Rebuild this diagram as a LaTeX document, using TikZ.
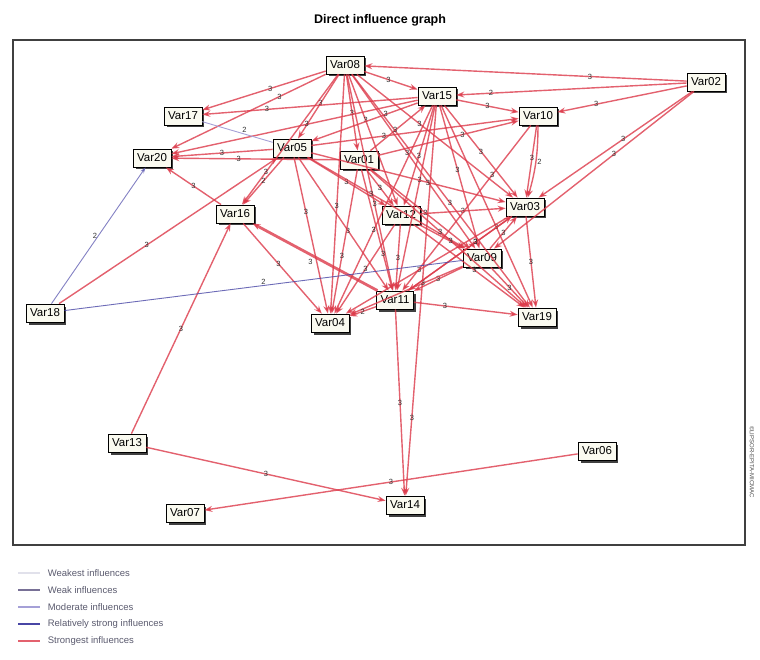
\documentclass[tikz,border=0pt]{standalone}
\usepackage{fontspec}
\setmainfont{Liberation Sans}
\setsansfont{Liberation Sans}
\usetikzlibrary{arrows.meta,shadows}
\definecolor{infred}{RGB}{220,58,74}
\definecolor{weakc}{RGB}{120,112,150}
\definecolor{modc}{RGB}{165,160,215}
\definecolor{strongc}{RGB}{72,70,165}
\definecolor{weakestc}{RGB}{225,225,235}
\definecolor{boxfill}{RGB}{250,250,240}
\definecolor{legtext}{RGB}{90,90,110}
\tikzset{
  var/.style={draw=black, line width=0.8pt, fill=boxfill, font=\sffamily\fontsize{11.5}{12}\selectfont,
    inner xsep=4pt, inner ysep=3pt, minimum height=18pt,
    drop shadow={shadow xshift=2.5pt, shadow yshift=-2.5pt, fill=black!75, opacity=1}},
  infl/.style={draw=infred, line width=1.4pt, opacity=0.8, -{Stealth[length=8pt,width=6pt]}},
  lbl/.style={font=\sffamily\fontsize{7.5}{8}\selectfont, text=black!80, inner sep=1pt, opacity=1},
  legline/.style={line width=1.6pt},
  legtxt/.style={anchor=west, font=\sffamily\fontsize{9.5}{10}\selectfont, text=legtext, inner sep=0pt}
}
\begin{document}
\begin{tikzpicture}[x=1pt,y=-1pt]
\useasboundingbox (0,0) rectangle (760,660);
\node[font=\sffamily\bfseries\fontsize{12.5}{13}\selectfont] (title) at (380,20) {Direct influence graph};
\draw[black!75, line width=1.5pt] (13,40) rectangle (745,545);
% nodes
\node[var] (v08) at (345,65) {Var08};
\node[var] (v15) at (437,96) {Var15};
\node[var] (v02) at (706,82) {Var02};
\node[var] (v10) at (538,116) {Var10};
\node[var] (v17) at (183,116) {Var17};
\node[var] (v20) at (152,158) {Var20};
\node[var] (v05) at (292,148) {Var05};
\node[var] (v01) at (359,160) {Var01};
\node[var] (v16) at (235,214) {Var16};
\node[var] (v12) at (401,215) {Var12};
\node[var] (v03) at (525,207) {Var03};
\node[var] (v09) at (482,258) {Var09};
\node[var] (v18) at (45,313) {Var18};
\node[var] (v04) at (330,323) {Var04};
\node[var] (v11) at (395,300) {Var11};
\node[var] (v19) at (537,317) {Var19};
\node[var] (v13) at (127,443) {Var13};
\node[var] (v06) at (597,451) {Var06};
\node[var] (v07) at (185,513) {Var07};
\node[var] (v14) at (405,505) {Var14};
% edges
\foreach \a/\b/\l/\p in {
 v02/v15/2/0.85, v02/v08/3/0.3, v02/v10/3/0.7, v02/v03/3/0.45, v02/v09/3/0.4,
 v08/v15/3/0.45, v08/v20/3/0.3, v08/v17/3/0.45, v08/v05/3/0.45, v08/v01/3/0.5, v08/v12/3/0.35, v08/v11/3/0.6, v08/v04/3/0.55,
 v08/v09/3/0.45, v08/v03/3/0.4, v08/v19/3/0.55, v08/v16/3/0.75,
 v15/v17/3/0.7, v15/v20/3/0.45, v15/v10/3/0.5, v15/v05/3/0.3, v15/v12/3/0.5, v15/v11/3/0.4, v15/v04/3/0.6,
 v15/v03/3/0.5, v15/v09/3/0.45, v15/v19/3/0.6, v15/v14/3/0.8,
 v05/v20/3/0.5, v05/v16/2/0.5, v05/v10/3/0.35, v05/v12/3/0.5, v05/v11/3/0.55, v05/v04/3/0.35, v05/v09/3/0.4, v05/v03/3/0.6,
 v01/v20/3/0.6, v01/v12/3/0.5, v01/v11/3/0.7, v01/v04/3/0.6, v01/v09/3/0.55, v01/v19/3/0.45, v01/v10/3/0.6, v01/v15/3/0.45,
 v12/v11/3/0.5, v12/v04/3/0.5, v12/v03/3/0.5, v12/v19/3/0.55, v12/v09/3/0.7,
 v09/v11/3/0.5, v09/v04/3/0.35, v09/v03/3/0.5, v09/v19/3/0.5,
 v03/v11/3/0.35, v03/v04/3/0.55, v03/v19/3/0.5,
 v10/v03/3/0.45, v10/v11/3/0.3,
 v11/v19/3/0.3, v11/v14/3/0.5, v11/v04/2/0.5, v11/v03/3/0.65,
 v16/v20/3/0.5, v16/v04/3/0.45, v18/v05/3/0.4, v13/v16/3/0.5, v13/v14/3/0.5, v06/v07/3/0.5}
 \draw[infl] (\a) -- node[lbl, pos=\p]{\l} (\b);
\draw[infl, bend left=8] (v10) to node[lbl, right]{2} (v03);
\draw[infl, line width=2.8pt] (v11) -- node[lbl, below left]{3} (v16);
\draw[strongc, line width=0.9pt, opacity=0.8] (v18) -- node[lbl, pos=0.5, above]{2} (v09);
\draw[strongc!70!modc, line width=0.9pt, opacity=0.8, -{Stealth[length=6pt,width=4pt]}] (v18) -- node[lbl, pos=0.5, left]{2} (v20);
\draw[modc, line width=0.9pt] (v17) -- node[lbl, pos=0.6, above]{2} (v05);
% legend
\coordinate (l1a) at (18,573); \coordinate (l1b) at (40,573);
\coordinate (l2a) at (18,590); \coordinate (l2b) at (40,590);
\coordinate (l3a) at (18,607); \coordinate (l3b) at (40,607);
\coordinate (l4a) at (18,624); \coordinate (l4b) at (40,624);
\coordinate (l5a) at (18,641); \coordinate (l5b) at (40,641);
\draw[legline, weakestc] (l1a) -- (l1b) node[legtxt, xshift=7pt] (t1) {Weakest influences};
\draw[legline, weakc] (l2a) -- (l2b) node[legtxt, xshift=7pt] (t2) {Weak influences};
\draw[legline, modc] (l3a) -- (l3b) node[legtxt, xshift=7pt] (t3) {Moderate influences};
\draw[legline, strongc] (l4a) -- (l4b) node[legtxt, xshift=7pt] (t4) {Relatively strong influences};
\draw[legline, infred!80] (l5a) -- (l5b) node[legtxt, xshift=7pt] (t5) {Strongest influences};
% watermark
\node[rotate=-90, font=\sffamily\fontsize{6}{6}\selectfont, text=black!70] (wm) at (752,462) {©LIPSOR-EPITA-MICMAC};
\end{tikzpicture}
\end{document}
